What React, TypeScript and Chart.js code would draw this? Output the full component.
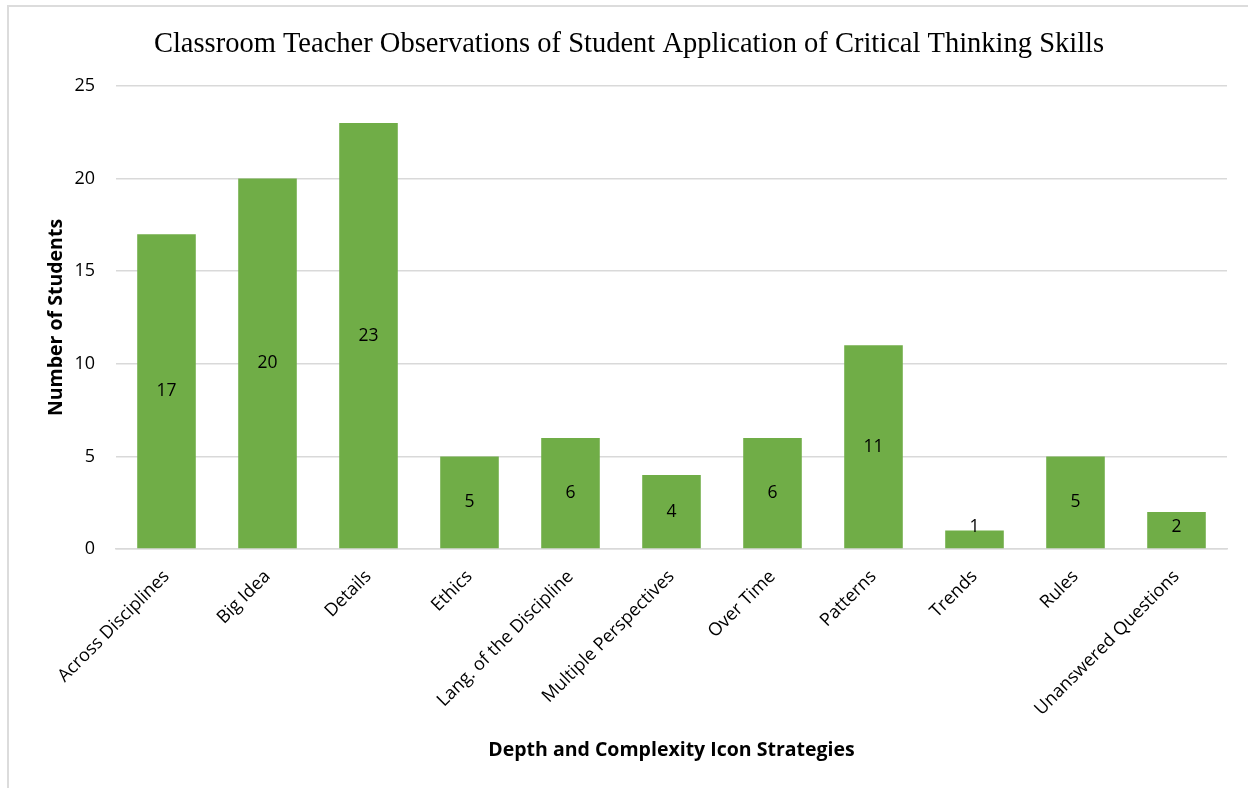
import React, { useEffect, useRef } from "react";
import { Chart, registerables } from "chart.js";

Chart.register(...registerables);

const chartTitle = "Classroom Teacher Observations of Student Application of Critical Thinking Skills";
const xAxisTitle = "Depth and Complexity Icon Strategies";
const yAxisTitle = "Number of Students";
const categories = [
  "Across Disciplines",
  "Big Idea",
  "Details",
  "Ethics",
  "Lang. of the Discipline",
  "Multiple Perspectives",
  "Over Time",
  "Patterns",
  "Trends",
  "Rules",
  "Unanswered Questions",
];
const studentCounts = [17, 20, 23, 5, 6, 4, 6, 11, 1, 5, 2];
const yMax = 25;
const yStep = 5;

const BAR_COLOR = "#70AD47";
const GRID_COLOR = "#d9d9d9";
const SANS = "'Open Sans', 'Liberation Sans', sans-serif";

const framePlugin = {
  id: "frame",
  beforeDraw(chart: any) {
    const { ctx, width, height } = chart;
    ctx.save();
    ctx.fillStyle = "#ffffff";
    ctx.fillRect(0, 0, width, height);
    ctx.strokeStyle = "#dcdcdc";
    ctx.lineWidth = 2;
    ctx.beginPath();
    ctx.moveTo(8, height);
    ctx.lineTo(8, 6);
    ctx.lineTo(width, 6);
    ctx.stroke();
    ctx.restore();
  },
};

const titlePlugin = {
  id: "customTitle",
  afterDraw(chart: any) {
    const { ctx } = chart;
    ctx.save();
    ctx.font = "28.5px 'Liberation Serif', 'Times New Roman', serif";
    ctx.fillStyle = "#000000";
    ctx.textAlign = "center";
    ctx.textBaseline = "alphabetic";
    ctx.fillText(chartTitle, 629, 52);
    ctx.restore();
  },
};

const valueLabelPlugin = {
  id: "valueLabels",
  afterDatasetsDraw(chart: any) {
    const { ctx } = chart;
    const meta = chart.getDatasetMeta(0);
    const ds = chart.data.datasets[0];
    ctx.save();
    ctx.font = `17.5px ${SANS}`;
    ctx.fillStyle = "#000000";
    ctx.textAlign = "center";
    ctx.textBaseline = "middle";
    meta.data.forEach((bar: any, i: number) => {
      const mid = (bar.y + bar.base) / 2;
      const y = Math.min(mid, bar.base - 21);
      ctx.fillText(String(ds.data[i]), bar.x, y);
    });
    ctx.restore();
  },
};

export default function App() {
  const canvasRef = useRef<HTMLCanvasElement | null>(null);

  useEffect(() => {
    document.body.style.margin = "0";
    const canvas = canvasRef.current;
    if (!canvas) return;
    const chart = new Chart(canvas, {
      type: "bar",
      data: {
        labels: categories,
        datasets: [
          {
            label: yAxisTitle,
            data: studentCounts,
            backgroundColor: BAR_COLOR,
            borderWidth: 0,
            categoryPercentage: 1,
            barPercentage: 0.58,
          },
        ],
      },
      options: {
        responsive: false,
        animation: false,
        devicePixelRatio: 1,
        layout: { padding: { top: 86, right: 21, bottom: 0, left: 0 } },
        plugins: {
          legend: { display: false },
          tooltip: { enabled: false },
          title: { display: false },
        },
        scales: {
          x: {
            grid: { display: false, drawTicks: false },
            border: { display: true, color: GRID_COLOR, width: 1.5 },
            ticks: {
              autoSkip: false,
              minRotation: 45,
              maxRotation: 45,
              padding: 17,
              color: "#000000",
              font: { family: SANS, size: 18 },
            },
            title: {
              display: true,
              text: xAxisTitle,
              color: "#000000",
              font: { family: SANS, size: 19.5, weight: "bold" },
              padding: { top: 0, bottom: 26 },
            },
            afterFit(scale: any) {
              scale.height = 239;
            },
          },
          y: {
            min: 0,
            max: yMax,
            grid: { color: GRID_COLOR, lineWidth: 1.5, drawTicks: false },
            border: { display: false },
            ticks: {
              stepSize: yStep,
              padding: 21,
              color: "#000000",
              font: { family: SANS, size: 18 },
            },
            title: {
              display: true,
              text: yAxisTitle,
              color: "#000000",
              font: { family: SANS, size: 19.5, weight: "bold" },
              padding: { top: 45, bottom: 0 },
            },
            afterFit(scale: any) {
              scale.width = 116;
            },
          },
        },
      },
      plugins: [framePlugin, titlePlugin, valueLabelPlugin],
    });
    return () => chart.destroy();
  }, []);

  return (
    <div style={{ position: "absolute", left: 0, top: 0, width: 1248, height: 788 }}>
      <canvas ref={canvasRef} width={1248} height={788} style={{ display: "block" }} />
    </div>
  );
}
